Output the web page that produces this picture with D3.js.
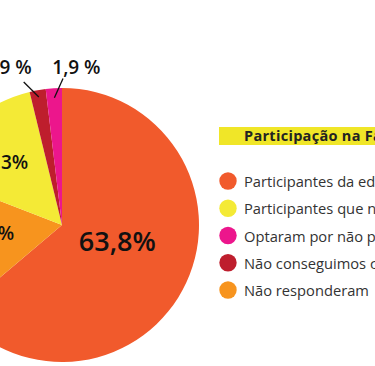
<!DOCTYPE html>
<html>
<head>
<meta charset="utf-8">
<script src="https://cdn.jsdelivr.net/npm/d3@7"></script>
<style>
  body { margin: 0; background: #fff; }
  svg { display: block; font-family: "Open Sans", sans-serif; }
</style>
</head>
<body>
<svg width="375" height="366"></svg>
<script>
// slices, clockwise from 12 o'clock
var categories = ["Participantes da edição 2021", "Não responderam", "Participantes que não concluíram", "Não conseguimos contato", "Optaram por não participar"];
var values = [63.8, 17.1, 15.3, 1.9, 1.9];
var labels = ["63,8%", "17,1%", "15,3%", "1,9 %", "1,9 %"];
var colors = ["#f15a2c", "#f7941e", "#f4ea36", "#be1e2d", "#ec168c"];

// legend order
var legendOrder = [0, 2, 4, 3, 1];
var legendTitle = "Participação na Fase 2";

// label placement: angle (deg, clockwise from top), radius as fraction of r
var labelPlace = [
    {a: 106, r: 0.42, size: 27},
    {a: 264, r: 0.55, size: 19},
    {a: 316, r: 0.64, size: 19},
    {a: 341, r: 1.22, size: 19, line: [0.95, 345, 1.08]},
    {a: 5.2, r: 1.16, size: 19, line: [0.93, 0.4, 1.07]}
];

var svg = d3.select("svg"),
    width = +svg.attr("width"),
    height = +svg.attr("height");

var cx = 62, cy = 225, radius = 137;
var rad = Math.PI / 180;

function polar(a, r) {
    return [Math.sin(a * rad) * r, -Math.cos(a * rad) * r];
}

var pie = d3.pie().sort(null).value(function(d) { return d; });
var arc = d3.arc().innerRadius(0).outerRadius(radius);
var arcs = pie(values);

var g = svg.append("g").attr("transform", "translate(" + cx + "," + cy + ")");

g.selectAll("path.slice")
    .data(arcs)
    .enter()
    .append("path")
    .attr("class", "slice")
    .attr("d", arc)
    .attr("fill", function(d, i) { return colors[i]; });

// leader lines for the thin slices
g.selectAll("line.leader")
    .data(arcs.filter(function(d, i) { return labelPlace[i].line; }))
    .enter()
    .append("line")
    .attr("class", "leader")
    .each(function(d) {
        var p = labelPlace[d.index];
        var mid = (d.startAngle + d.endAngle) / 2 / rad;
        var s = polar(mid, p.line[0] * radius);
        var e = polar(p.line[1], p.line[2] * radius);
        d3.select(this)
            .attr("x1", s[0]).attr("y1", s[1])
            .attr("x2", e[0]).attr("y2", e[1]);
    })
    .attr("stroke", "#111")
    .attr("stroke-width", 1.3);

g.selectAll("text.lbl")
    .data(arcs)
    .enter()
    .append("text")
    .attr("class", "lbl")
    .attr("x", function(d, i) { return polar(labelPlace[i].a, labelPlace[i].r * radius)[0]; })
    .attr("y", function(d, i) { return polar(labelPlace[i].a, labelPlace[i].r * radius)[1]; })
    .attr("text-anchor", "middle")
    .attr("dominant-baseline", "central")
    .attr("font-size", function(d, i) { return labelPlace[i].size + "px"; })
    .attr("font-weight", 600)
    .attr("fill", "#111")
    .text(function(d, i) { return labels[i]; });

// legend
var lx = 219, ly = 127;
var legend = svg.append("g");

legend.append("rect")
    .attr("x", lx).attr("y", ly)
    .attr("width", width - lx).attr("height", 18)
    .attr("fill", "#f0e628");

legend.append("text")
    .attr("x", lx + 25).attr("y", ly + 14)
    .attr("font-size", "14.5px")
    .attr("font-weight", "bold")
    .attr("letter-spacing", "0.3px")
    .attr("fill", "#222")
    .text(legendTitle);

var ry = d3.scalePoint()
    .domain(legendOrder)
    .range([181, 290]);

var item = legend.selectAll("g.item")
    .data(legendOrder)
    .enter()
    .append("g")
    .attr("class", "item")
    .attr("transform", function(d) { return "translate(0," + ry(d) + ")"; });

item.append("circle")
    .attr("cx", 228).attr("cy", 0).attr("r", 8.7)
    .attr("fill", function(d) { return colors[d]; });

item.append("text")
    .attr("x", 244).attr("y", 0)
    .attr("dominant-baseline", "central")
    .attr("font-size", "14.7px")
    .attr("fill", "#333")
    .text(function(d) { return categories[d]; });
</script>
</body>
</html>
